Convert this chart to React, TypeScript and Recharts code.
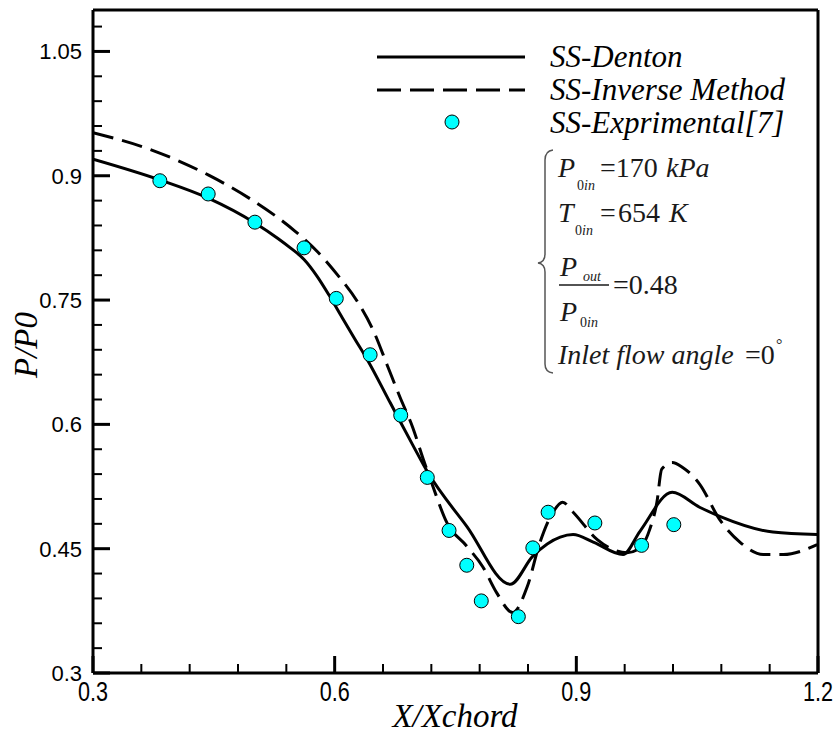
import React from "react";
import {
	ComposedChart,
	Line,
	Scatter,
	XAxis,
	YAxis,
} from "recharts";

// SS-Denton (solid)
const dentonX = [
	0.3, 0.383, 0.443, 0.501, 0.53, 0.545, 0.562, 0.578, 0.593, 0.608, 0.625,
	0.64, 0.669, 0.681, 0.697, 0.715, 0.764, 0.818, 0.846, 0.88, 0.896, 0.921,
	0.958, 0.979, 1.019, 1.053, 1.078, 1.144, 1.199,
];
const dentonY = [
	0.92, 0.895, 0.873, 0.843, 0.824, 0.813, 0.799, 0.779, 0.756, 0.731, 0.703,
	0.679, 0.626, 0.604, 0.575, 0.543, 0.477, 0.407, 0.441, 0.464, 0.467, 0.458,
	0.443, 0.471, 0.518, 0.5, 0.489, 0.47, 0.467,
];

// SS-Inverse Method (dashed)
const inverseX = [
	0.3, 0.373, 0.443, 0.497, 0.551, 0.579, 0.603, 0.629, 0.649, 0.665, 0.681,
	0.697, 0.71, 0.722, 0.739, 0.764, 0.784, 0.801, 0.821, 0.839, 0.855, 0.871,
	0.883, 0.896, 0.926, 0.963, 0.979, 0.991, 1.0, 1.006, 1.019, 1.032, 1.053,
	1.078, 1.103, 1.132, 1.157, 1.199,
];
const inverseY = [
	0.952, 0.931, 0.901, 0.871, 0.833, 0.808, 0.781, 0.747, 0.711, 0.672, 0.633,
	0.596, 0.558, 0.525, 0.482, 0.453, 0.428, 0.397, 0.373, 0.404, 0.458, 0.494,
	0.506, 0.494, 0.461, 0.445, 0.451, 0.473, 0.506, 0.546, 0.554, 0.548, 0.528,
	0.485, 0.458, 0.443, 0.443, 0.455,
];

// SS-Exprimental[7]
const expX = [
	0.383, 0.443, 0.501, 0.562, 0.602, 0.644, 0.682, 0.715, 0.742, 0.764, 0.782,
	0.828, 0.846, 0.865, 0.923, 0.981, 1.021,
];
const expY = [
	0.894, 0.878, 0.844, 0.813, 0.752, 0.684, 0.611, 0.536, 0.472, 0.43, 0.387,
	0.368, 0.451, 0.494, 0.481, 0.454, 0.479,
];

const xTicks = [
	0.3, 0.36, 0.42, 0.48, 0.54, 0.6, 0.66, 0.72, 0.78, 0.84, 0.9, 0.96, 1.02,
	1.08, 1.14, 1.2,
];
const xMajor = [0.3, 0.6, 0.9, 1.2];
const yTicks = [
	0.3, 0.33, 0.36, 0.39, 0.42, 0.45, 0.48, 0.51, 0.54, 0.57, 0.6, 0.63, 0.66,
	0.69, 0.72, 0.75, 0.78, 0.81, 0.84, 0.87, 0.9, 0.93, 0.96, 0.99, 1.02, 1.05,
	1.08,
];
const yMajor = [0.3, 0.45, 0.6, 0.75, 0.9, 1.05];

const dentonData = dentonX.map((x, i) => ({ x, y: dentonY[i] }));
const inverseData = inverseX.map((x, i) => ({ x, y: inverseY[i] }));
const expData = expX.map((x, i) => ({ x, y: expY[i] }));

const serif = '"Liberation Serif", "Times New Roman", serif';
const sans = '"Liberation Sans", Arial, sans-serif';

const isMajor = (list: number[], v: number) =>
	list.some((m) => Math.abs(m - v) < 1e-6);

function XTick(props: any) {
	const { x, y, payload } = props;
	const major = isMajor(xMajor, payload.value);
	return (
		<g>
			<line
				x1={x}
				x2={x}
				y1={y}
				y2={y - (major ? 17 : 9)}
				stroke="#000"
				strokeWidth={major ? 3 : 2}
			/>
			{major && (
				<text
					transform={`translate(${x} ${y + 28}) scale(0.8 1)`}
					textAnchor="middle"
					fontFamily={sans}
					fontSize={27}
					fill="#000"
					stroke="none"
				>
					{String(payload.value)}
				</text>
			)}
		</g>
	);
}

function YTick(props: any) {
	const { x, y, payload } = props;
	const major = isMajor(yMajor, payload.value);
	return (
		<g>
			<line
				x1={x}
				x2={x + (major ? 17 : 9)}
				y1={y}
				y2={y}
				stroke="#000"
				strokeWidth={major ? 3 : 2}
			/>
			{major && (
				<text
					x={x - 11}
					y={y + 8}
					textAnchor="end"
					fontFamily={sans}
					fontSize={22}
					fill="#000"
					stroke="none"
				>
					{String(payload.value)}
				</text>
			)}
		</g>
	);
}

const Dot = (p: any) => (
	<circle cx={p.cx} cy={p.cy} r={7} fill="#00FFFF" stroke="#000" strokeWidth={1} />
);

function Overlay() {
	const t = "#1a1a1a";
	return (
		<svg
			width={839}
			height={736}
			style={{ position: "absolute", left: 0, top: 0, pointerEvents: "none" }}
		>
			{/* legend */}
			<line x1={377} x2={525} y1={57} y2={57} stroke="#000" strokeWidth={3} />
			<line
				x1={377}
				x2={525}
				y1={90}
				y2={90}
				stroke="#000"
				strokeWidth={3}
				strokeDasharray="24 9"
			/>
			<circle cx={452} cy={122} r={7} fill="#00FFFF" stroke="#000" strokeWidth={1} />
			<g fontFamily={serif} fontStyle="italic" fontSize={31} fill="#000">
				<text x={550} y={67}>SS-Denton</text>
				<text x={550} y={100}>SS-Inverse Method</text>
				<text x={550} y={133}>SS-Exprimental[7]</text>
			</g>

			{/* operating conditions */}
			<path
				d="M553 150 Q545 151 545 160 L545 254 Q545 262 538 263 Q545 264 545 272 L545 364 Q545 372 553 373"
				fill="none"
				stroke="#555"
				strokeWidth={1.5}
			/>
			<g fontFamily={serif} fill={t} fontSize={28}>
				<text x={558} y={177} fontStyle="italic">P</text>
				<text x={577} y={190} fontSize={14}>0<tspan fontStyle="italic">in</tspan></text>
				<text x={600} y={177}>=170</text>
				<text x={666} y={177} fontStyle="italic">kPa</text>

				<text x={558} y={222} fontStyle="italic">T</text>
				<text x={575} y={235} fontSize={14}>0<tspan fontStyle="italic">in</tspan></text>
				<text x={600} y={222}>=</text>
				<text x={618} y={222}>654</text>
				<text x={669} y={222} fontStyle="italic">K</text>

				<text x={560} y={276} fontStyle="italic">P</text>
				<text x={583} y={281} fontSize={14} fontStyle="italic">out</text>
				<line x1={559} x2={609} y1={285} y2={285} stroke={t} strokeWidth={1.5} />
				<text x={613} y={294}>=0.48</text>
				<text x={560} y={321} fontStyle="italic">P</text>
				<text x={580} y={327} fontSize={14}>0<tspan fontStyle="italic">in</tspan></text>

				<text x={558} y={364} fontStyle="italic">
					Inlet  flow angle
				</text>
				<text x={745} y={364}>=0</text>
				<text x={776} y={350} fontSize={16}>°</text>
			</g>

			{/* axis titles */}
			<text
				x={455}
				y={727}
				textAnchor="middle"
				fontFamily={serif}
				fontStyle="italic"
				fontSize={33}
				fill="#000"
			>
				X/Xchord
			</text>
			<text
				transform="translate(37 345) rotate(-90)"
				textAnchor="middle"
				fontFamily={serif}
				fontStyle="italic"
				fontSize={33}
				fill="#000"
			>
				P/P0
			</text>
		</svg>
	);
}

export default function App() {
	return (
		<div
			style={{
				position: "absolute",
				left: 0,
				top: 0,
				width: 839,
				height: 736,
				background: "#fff",
			}}
		>
			<ComposedChart
				width={839}
				height={736}
				margin={{ top: 9, right: 20, bottom: 62, left: 92 }}
			>
				<XAxis
					dataKey="x"
					type="number"
					domain={[0.3, 1.2]}
					ticks={xTicks}
					interval={0}
					allowDataOverflow
					height={1}
					tickSize={0}
					tickMargin={0}
					tickLine={false}
					axisLine={{ stroke: "#000", strokeWidth: 3 }}
					tick={<XTick />}
				/>
				<XAxis
					xAxisId="top"
					orientation="top"
					type="number"
					domain={[0.3, 1.2]}
					height={1}
					tick={false}
					tickLine={false}
					axisLine={{ stroke: "#000", strokeWidth: 3 }}
				/>
				<YAxis
					type="number"
					domain={[0.3, 1.1]}
					ticks={yTicks}
					interval={0}
					allowDataOverflow
					width={1}
					tickSize={0}
					tickMargin={0}
					tickLine={false}
					axisLine={{ stroke: "#000", strokeWidth: 3 }}
					tick={<YTick />}
				/>
				<YAxis
					yAxisId="right"
					orientation="right"
					type="number"
					domain={[0.3, 1.1]}
					width={1}
					tick={false}
					tickLine={false}
					axisLine={{ stroke: "#000", strokeWidth: 3 }}
				/>
				<Line
					data={inverseData}
					dataKey="y"
					type="monotone"
					stroke="#000"
					strokeWidth={3}
					strokeDasharray="21 9"
					dot={false}
					isAnimationActive={false}
				/>
				<Line
					data={dentonData}
					dataKey="y"
					type="monotone"
					stroke="#000"
					strokeWidth={3}
					dot={false}
					isAnimationActive={false}
				/>
				<Scatter
					data={expData}
					dataKey="y"
					shape={<Dot />}
					isAnimationActive={false}
				/>
			</ComposedChart>
			<Overlay />
		</div>
	);
}
